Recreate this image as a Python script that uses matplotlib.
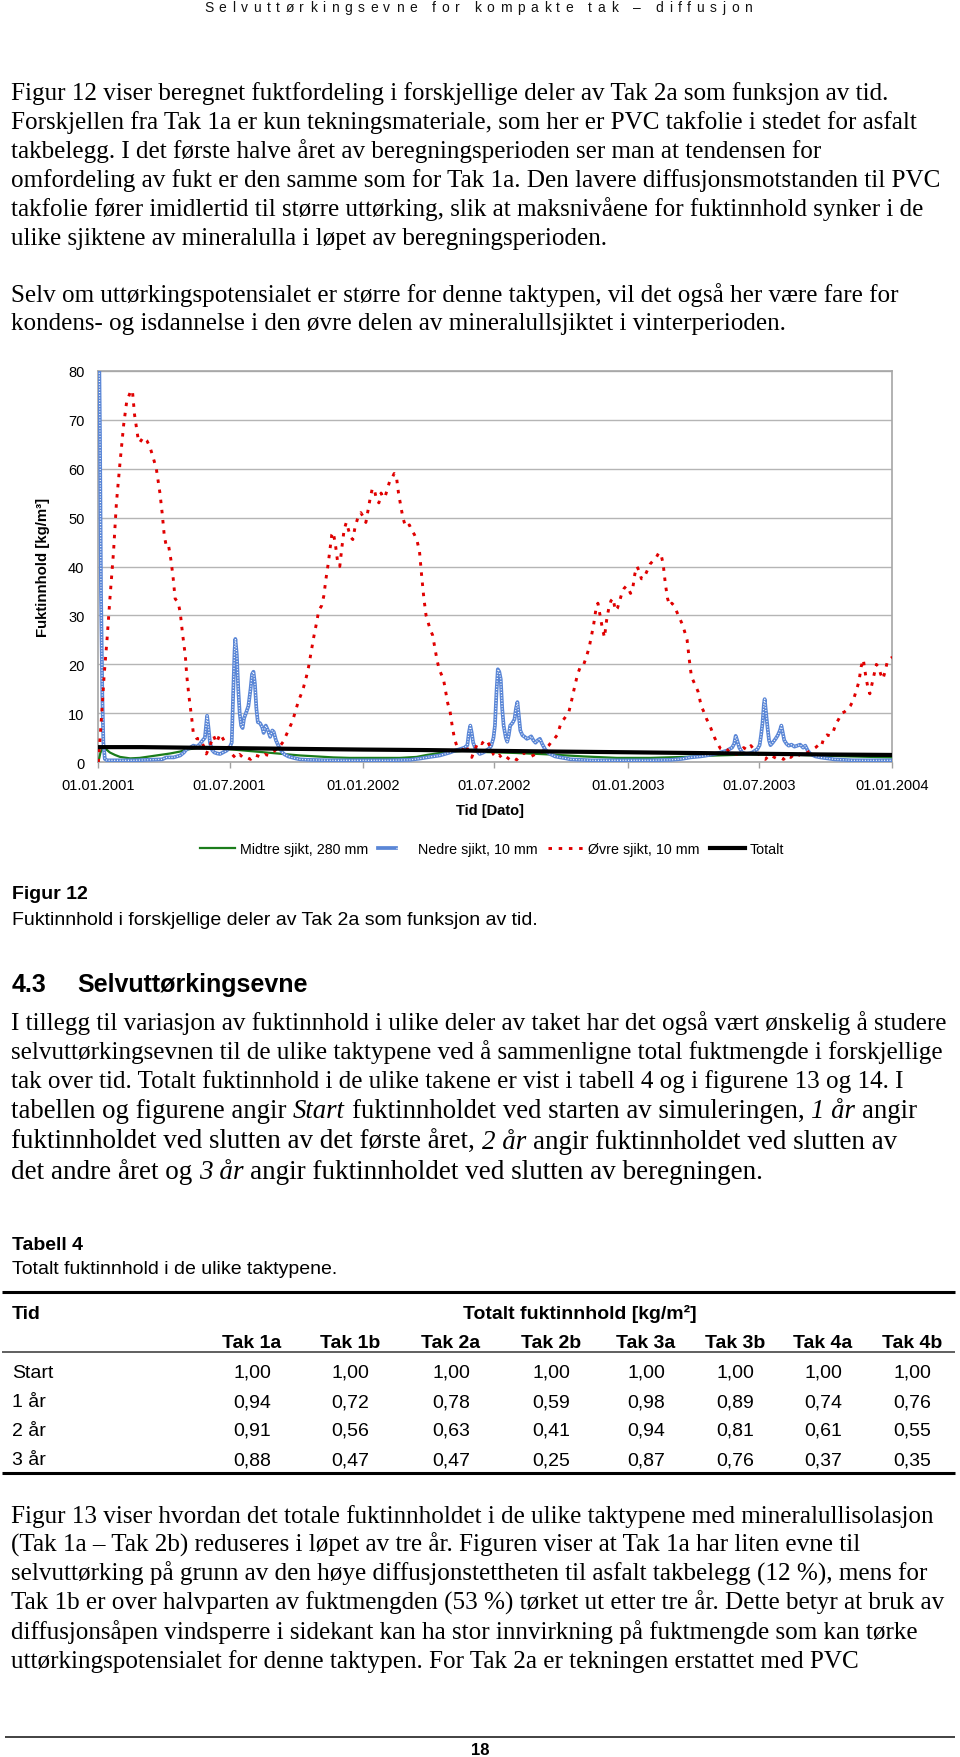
import numpy as np
import matplotlib
matplotlib.use("Agg")
import matplotlib.pyplot as plt
from matplotlib.lines import Line2D
from matplotlib.legend_handler import HandlerTuple

# ---------------- data ----------------
x_tick_dates = ["2001-01-01", "2001-07-01", "2002-01-01", "2002-07-01",
                "2003-01-01", "2003-07-01", "2004-01-01"]
x_tick_labels = ["01.01.2001", "01.07.2001", "01.01.2002", "01.07.2002",
                 "01.01.2003", "01.07.2003", "01.01.2004"]
y_ticks = [0, 10, 20, 30, 40, 50, 60, 70, 80]

# Øvre sjikt, 10 mm (days since 01.01.2001, kg/m3)
ovre_days = [0, 2, 5, 8, 12, 16, 21, 25, 30, 35, 39, 44, 47, 50, 55, 57, 62, 67, 71, 75,
             80, 85, 88, 91, 94, 97, 100, 103, 106, 110, 113, 116, 120, 122, 125, 129, 131, 136, 140, 145,
             149, 154, 159, 163, 168, 172, 177, 184, 190, 195, 200, 205, 210, 215, 220, 225, 230, 235, 240, 245,
             250, 255, 259, 262, 266, 269, 273, 276, 280, 283, 287, 290, 294, 297, 301, 304, 308, 311, 314, 317,
             320, 322, 324, 327, 330, 333, 336, 339, 342, 345, 348, 351, 354, 358, 362, 366, 369, 372, 375, 378,
             381, 384, 387, 390, 393, 396, 399, 402, 405, 408, 411, 414, 417, 420, 423, 426, 429, 432, 436, 440,
             443, 446, 449, 452, 455, 458, 461, 464, 467, 470, 473, 476, 479, 482, 485, 488, 491, 494, 498, 503,
             507, 511, 515, 519, 522, 526, 529, 533, 537, 541, 545, 549, 553, 557, 562, 567, 572, 577, 582, 587,
             592, 597, 602, 607, 612, 617, 621, 625, 629, 633, 637, 641, 645, 649, 653, 657, 661, 665, 669, 673,
             677, 680, 683, 686, 689, 692, 695, 698, 701, 704, 707, 710, 713, 716, 719, 722, 725, 728, 731, 734,
             737, 740, 743, 746, 749, 752, 755, 758, 761, 764, 767, 770, 773, 776, 779, 782, 785, 788, 791, 794,
             797, 800, 803, 806, 809, 812, 815, 818, 821, 824, 827, 830, 833, 836, 839, 842, 846, 850, 854, 858,
             862, 866, 870, 875, 880, 885, 890, 895, 900, 905, 910, 915, 920, 925, 930, 935, 940, 945, 950, 955,
             960, 965, 970, 975, 980, 985, 989, 993, 997, 1001, 1005, 1009, 1013, 1017, 1021, 1025, 1029, 1033, 1037, 1041,
             1045, 1049, 1052, 1055, 1058, 1061, 1064, 1067, 1070, 1073, 1076, 1079, 1082, 1085, 1088, 1091, 1095]
ovre_vals = [0.0, 4.0, 10.5, 17.7, 25.0, 33.4, 43.0, 53.0, 61.3, 69.0, 73.5, 75.6, 76.0, 71.0, 66.0, 65.3, 66.4, 65.7, 64.5, 62.6,
             60.0, 55.0, 51.0, 46.3, 44.0, 44.2, 41.5, 38.0, 33.4, 32.7, 30.6, 26.5, 21.8, 17.7, 13.5, 8.8, 6.0, 4.8, 4.8, 3.4,
             1.7, 3.4, 5.4, 4.0, 5.8, 4.8, 3.4, 1.7, 0.8, 1.6, 0.9, 1.0, 0.6, 1.5, 1.3, 1.0, 1.6, 1.4, 1.9, 2.6,
             3.2, 4.2, 5.5, 6.5, 7.8, 9.0, 11.0, 12.5, 14.0, 15.3, 17.5, 19.5, 23.0, 25.5, 28.5, 31.0, 32.0, 34.0, 37.5, 40.5,
             44.0, 46.5, 47.0, 44.5, 41.0, 40.0, 44.0, 47.5, 49.0, 47.5, 46.0, 45.5, 48.0, 50.0, 51.0, 50.0, 49.0, 51.5, 54.0, 56.0,
             55.5, 53.5, 53.0, 55.0, 54.0, 54.5, 56.0, 57.5, 58.0, 59.0, 58.5, 55.0, 52.5, 50.0, 48.5, 48.0, 48.5, 47.5, 46.5, 45.0,
             43.0, 38.0, 33.5, 30.0, 28.5, 27.0, 26.0, 23.5, 21.0, 19.0, 18.0, 17.0, 14.5, 12.0, 10.5, 7.5, 5.0, 3.5, 2.8, 2.5,
             3.5, 2.0, 1.0, 2.5, 3.5, 4.2, 3.8, 4.6, 4.2, 3.0, 1.6, 1.0, 1.5, 0.8, 1.2, 0.6, 1.0, 0.5, 1.4, 1.9,
             1.5, 1.2, 1.6, 1.6, 2.2, 2.8, 3.4, 4.2, 4.8, 5.6, 7.5, 8.6, 9.4, 10.3, 12.8, 15.5, 18.0, 19.6, 19.8, 21.5,
             23.5, 25.8, 28.0, 31.0, 32.5, 30.0, 27.5, 25.5, 29.0, 31.5, 33.0, 33.5, 31.0, 31.5, 33.0, 34.5, 35.5, 36.0, 35.5, 34.5,
             35.5, 38.5, 40.0, 39.0, 37.5, 37.5, 38.5, 39.5, 40.5, 41.0, 41.5, 42.0, 42.8, 42.5, 40.5, 36.5, 33.5, 32.0, 32.5, 32.0,
             31.0, 30.0, 29.0, 28.0, 26.5, 25.0, 21.0, 17.5, 16.5, 15.5, 14.5, 12.5, 11.0, 10.0, 8.8, 8.0, 6.5, 5.0, 3.8, 2.8,
             2.5, 2.8, 2.2, 1.8, 1.6, 2.2, 3.0, 2.5, 3.4, 2.5, 1.8, 1.0, 0.6, 1.5, 1.2, 0.8, 1.0, 0.6, 1.4, 1.0,
             1.7, 1.3, 2.0, 1.7, 2.2, 2.6, 3.0, 3.5, 3.2, 5.2, 5.6, 5.4, 6.0, 7.8, 8.8, 10.0, 10.3, 10.8, 11.5, 12.6,
             14.5, 16.5, 19.5, 21.0, 18.0, 15.5, 14.0, 16.0, 18.0, 20.0, 19.5, 18.0, 17.0, 18.5, 20.5, 21.0, 21.5]

# Nedre sjikt, 10 mm
nedre_days = [0, 1.4, 2.3, 3.7, 5.5, 7, 9, 12, 30, 50, 70, 88, 94, 104, 113, 118, 122, 127, 131, 136,
              140, 144, 147, 149, 150, 152, 154, 157, 160, 164, 168, 172, 177, 181, 184, 186, 188, 189, 191, 193,
              195, 197, 199, 201, 204, 207, 210, 212, 214, 216, 218, 220, 223, 226, 228, 231, 234, 237, 240, 242,
              245, 248, 251, 254, 257, 262, 267, 272, 278, 290, 320, 360, 400, 430, 445, 453, 462, 471, 480, 485,
              492, 499, 505, 509, 511, 513, 515, 517, 521, 526, 531, 535, 539, 542, 545, 547, 549, 551, 553, 555,
              557, 559, 562, 564, 566, 568, 571, 574, 576, 578, 580, 582, 585, 588, 591, 594, 597, 600, 603, 606,
              609, 612, 616, 620, 623, 630, 637, 645, 651, 680, 720, 760, 790, 805, 816, 830, 839, 850, 858, 867,
              874, 877, 879, 881, 884, 888, 893, 898, 902, 906, 909, 912, 914, 916, 918, 919, 921, 923, 925, 927,
              930, 934, 937, 940, 942, 944, 946, 949, 952, 956, 960, 964, 968, 972, 975, 978, 982, 989, 996, 1005,
              1015, 1040, 1070, 1095]
nedre_vals = [88.0, 80.0, 67.0, 35.0, 14.0, 4.0, 0.7, 0.4, 0.4, 0.4, 0.5, 0.6, 1.0, 1.0, 1.4, 2.0, 2.7, 3.0, 3.4, 3.2,
              3.7, 4.5, 5.0, 8.0, 9.5, 7.0, 4.0, 2.5, 2.0, 1.8, 1.7, 2.0, 2.4, 3.0, 4.0, 14.0, 23.0, 25.2, 22.0, 15.0,
              10.0, 7.5, 7.0, 9.0, 10.2, 11.5, 15.0, 18.0, 18.5, 16.0, 11.0, 8.2, 8.0, 7.2, 6.0, 7.5, 6.5, 5.2, 6.5, 6.2,
              4.5, 3.5, 2.7, 2.0, 1.6, 1.2, 1.0, 0.8, 0.6, 0.5, 0.4, 0.4, 0.4, 0.5, 0.8, 1.0, 1.2, 1.4, 1.8, 2.0,
              2.4, 2.7, 3.0, 3.5, 6.0, 7.5, 6.0, 4.0, 2.5, 1.7, 2.0, 2.4, 2.8, 3.4, 5.0, 7.5, 14.0, 19.0, 18.5, 17.0,
              11.0, 7.5, 5.0, 4.2, 5.5, 7.5, 8.0, 8.8, 11.0, 12.3, 9.5, 6.5, 5.5, 5.2, 4.8, 5.0, 5.3, 4.5, 4.0, 4.5,
              4.8, 3.8, 2.7, 2.0, 1.7, 1.2, 1.0, 0.8, 0.6, 0.4, 0.4, 0.4, 0.5, 0.7, 1.0, 1.2, 1.4, 1.7, 2.0, 2.4,
              3.0, 3.8, 5.4, 4.5, 3.0, 2.0, 1.7, 1.8, 2.0, 2.4, 2.7, 3.5, 5.5, 8.0, 12.0, 12.9, 10.0, 7.0, 4.5, 3.5,
              4.0, 4.8, 5.5, 6.5, 7.5, 6.0, 4.5, 3.8, 3.4, 3.6, 3.2, 3.4, 3.6, 3.0, 3.4, 2.5, 1.7, 1.2, 1.0, 0.8,
              0.6, 0.4, 0.4, 0.4]

# Midtre sjikt, 280 mm
midtre_days = [0, 3, 7, 12, 16, 23, 30, 44, 57, 71, 85, 99, 113, 122, 140, 163, 186, 209, 232, 255,
               278, 301, 324, 347, 370, 393, 416, 439, 453, 471, 490, 508, 531, 577, 623, 669, 715, 761, 807, 853,
               899, 945, 991, 1037, 1095]
midtre_vals = [0.0, 2.0, 3.0, 2.5, 2.0, 1.5, 1.1, 0.8, 0.9, 1.2, 1.5, 1.8, 2.2, 2.6, 3.0, 2.8, 2.6, 2.3, 2.0, 1.7,
               1.4, 1.2, 1.0, 0.9, 0.9, 0.9, 0.9, 1.1, 1.5, 1.9, 2.2, 2.4, 2.1, 1.9, 1.6, 1.2, 0.9, 0.9, 1.1, 1.4,
               1.6, 1.6, 1.4, 1.2, 1.0]

# Totalt
totalt_days = [0, 60, 120, 180, 240, 300, 365, 450, 540, 630, 730, 820, 910, 1000, 1095]
totalt_vals = [3.1, 3.1, 3.0, 2.9, 2.8, 2.7, 2.6, 2.5, 2.35, 2.2, 2.05, 1.9, 1.75, 1.6, 1.5]

series_labels = ["Midtre sjikt, 280 mm", "Nedre sjikt, 10 mm", "Øvre sjikt, 10 mm", "Totalt"]

# Tabell 4
table_cols = ["Tak 1a", "Tak 1b", "Tak 2a", "Tak 2b", "Tak 3a", "Tak 3b", "Tak 4a", "Tak 4b"]
table_rows = ["Start", "1 år", "2 år", "3 år"]
tab_start = [1.00, 1.00, 1.00, 1.00, 1.00, 1.00, 1.00, 1.00]
tab_1ar = [0.94, 0.72, 0.78, 0.59, 0.98, 0.89, 0.74, 0.76]
tab_2ar = [0.91, 0.56, 0.63, 0.41, 0.94, 0.81, 0.61, 0.55]
tab_3ar = [0.88, 0.47, 0.47, 0.25, 0.87, 0.76, 0.37, 0.35]

# ---------------- text ----------------
header = "Selvuttørkingsevne for kompakte tak – diffusjon"
para1 = ["Figur 12 viser beregnet fuktfordeling i forskjellige deler av Tak 2a som funksjon av tid.",
         "Forskjellen fra Tak 1a er kun tekningsmateriale, som her er PVC takfolie i stedet for asfalt",
         "takbelegg. I det første halve året av beregningsperioden ser man at tendensen for",
         "omfordeling av fukt er den samme som for Tak 1a. Den lavere diffusjonsmotstanden til PVC",
         "takfolie fører imidlertid til større uttørking, slik at maksnivåene for fuktinnhold synker i de",
         "ulike sjiktene av mineralulla i løpet av beregningsperioden."]
para2 = ["Selv om uttørkingspotensialet er større for denne taktypen, vil det også her være fare for",
         "kondens- og isdannelse i den øvre delen av mineralullsjiktet i vinterperioden."]
para3 = [[("I tillegg til variasjon av fuktinnhold i ulike deler av taket har det også vært ønskelig å studere", False)],
         [("selvuttørkingsevnen til de ulike taktypene ved å sammenligne total fuktmengde i forskjellige", False)],
         [("tak over tid. Totalt fuktinnhold i de ulike takene er vist i tabell 4 og i figurene 13 og 14. I", False)],
         [("tabellen og figurene angir ", False), ("Start", True), (" fuktinnholdet ved starten av simuleringen, ", False),
          ("1 år", True), (" angir", False)],
         [("fuktinnholdet ved slutten av det første året, ", False), ("2 år", True),
          (" angir fuktinnholdet ved slutten av", False)],
         [("det andre året og ", False), ("3 år", True), (" angir fuktinnholdet ved slutten av beregningen.", False)]]
para3_scale = [1.0, 1.0, 1.0, 1.065, 1.075, 1.08]
para4 = ["Figur 13 viser hvordan det totale fuktinnholdet i de ulike taktypene med mineralullisolasjon",
         "(Tak 1a – Tak 2b) reduseres i løpet av tre år. Figuren viser at Tak 1a har liten evne til",
         "selvuttørking på grunn av den høye diffusjonstettheten til asfalt takbelegg (12 %), mens for",
         "Tak 1b er over halvparten av fuktmengden (53 %) tørket ut etter tre år. Dette betyr at bruk av",
         "diffusjonsåpen vindsperre i sidekant kan ha stor innvirkning på fuktmengde som kan tørke",
         "uttørkingspotensialet for denne taktypen. For Tak 2a er tekningen erstattet med PVC"]

# ---------------- layout ----------------
W, H, DPI = 960, 1758, 100
SANS = ["Liberation Sans", "DejaVu Sans"]
SERIF = ["Liberation Serif", "DejaVu Serif"]
plt.rcParams["font.family"] = SANS

fig = plt.figure(figsize=(W / DPI, H / DPI), dpi=DPI)
fig.patch.set_facecolor("white")
renderer = fig.canvas.get_renderer()


def ftext(x, y, s, **kw):
    return fig.text(x / W, 1 - y / H, s, **kw)


def text_w(s, **kw):
    t = fig.text(0, 0, s, **kw)
    w = t.get_window_extent(renderer).width
    t.remove()
    return w


def hline(x0, x1, y, lw, color="black"):
    fig.add_artist(Line2D([x0 / W, x1 / W], [1 - y / H, 1 - y / H], lw=lw, color=color,
                          transform=fig.transFigure, solid_capstyle="butt"))


LEFT = 11

# body font size fitted to measured line ends
measured = [(para1[0], 888), (para1[1], 917), (para1[3], 940), (para1[4], 922),
            (para2[0], 895), (para4[0], 930), (para4[2], 927), (para4[3], 943), (para4[4], 920)]
ratios = [(r - LEFT) / text_w(s, family=SERIF, fontsize=10) * 10 for s, r in measured]
BODY_FS = float(np.median(ratios))


def draw_runs(x, y, runs, fs):
    space_w = 0.25 * fs * DPI / 72
    for s, ital in runs:
        lead = len(s) - len(s.lstrip(" "))
        trail = len(s) - len(s.rstrip(" "))
        core = s.strip(" ")
        x += lead * space_w
        t = ftext(x, y, core, family=SERIF, fontsize=fs, style="italic" if ital else "normal",
                  va="baseline", ha="left")
        x += t.get_window_extent(renderer).width
        x += trail * space_w


# header, letter spaced
HFS = 10
hx0, hx1, hy = 204, 752, 12
cw = []
for c in header:
    if c == " ":
        cw.append(0.278 * HFS * DPI / 72)
    else:
        cw.append(text_w(c, family=SANS, fontsize=HFS))
track = (hx1 - hx0 - sum(cw)) / (len(header) - 1)
xx = hx0
for c, w in zip(header, cw):
    if c != " ":
        ftext(xx, hy, c, family=SANS, fontsize=HFS, va="baseline", ha="left", color="#111111")
    xx += w + track

# paragraphs
for s, yb in zip(para1, [100, 129, 158, 187, 216, 245]):
    ftext(LEFT, yb, s, family=SERIF, fontsize=BODY_FS, va="baseline")
for s, yb in zip(para2, [302, 330]):
    ftext(LEFT, yb, s, family=SERIF, fontsize=BODY_FS, va="baseline")
for runs, sc, yb in zip(para3, para3_scale, [1030, 1059, 1088, 1118, 1149, 1179]):
    draw_runs(LEFT, yb, runs, BODY_FS * sc)
for s, yb in zip(para4, [1523, 1552, 1581, 1610, 1639, 1668]):
    ftext(LEFT, yb, s, family=SERIF, fontsize=BODY_FS, va="baseline")

# ---------------- chart ----------------
ax_l, ax_r, ax_t, ax_b = 98.3, 892.3, 371.7, 763.3
ax = fig.add_axes([ax_l / W, 1 - ax_b / H, (ax_r - ax_l) / W, (ax_b - ax_t) / H])

base = np.datetime64("2001-01-01")


def to_dates(days):
    return base + np.round(np.array(days, dtype=float) * 24).astype("timedelta64[h]")


l_mid, = ax.plot(to_dates(midtre_days), midtre_vals, color="#1b7d1b", lw=1.6, zorder=3)
l_ned, = ax.plot(to_dates(nedre_days), nedre_vals, color="#5a86d6", lw=2.7, zorder=4,
                 solid_joinstyle="round")
l_ned2, = ax.plot(to_dates(nedre_days), nedre_vals, color="white", lw=0.9, zorder=4.1,
                  linestyle=(0, (0.8, 1.4)))
l_ovr, = ax.plot(to_dates(ovre_days), ovre_vals, color="#e00000", lw=2.1, zorder=5,
                 linestyle=(0, (1.2, 2.3)))
l_tot, = ax.plot(to_dates(totalt_days), totalt_vals, color="black", lw=3.0, zorder=6)

ax.set_xlim(np.datetime64(x_tick_dates[0]), np.datetime64(x_tick_dates[-1]))
ax.set_ylim(0, 80)
ax.set_yticks(y_ticks)
ax.set_yticklabels([str(v) for v in y_ticks], fontsize=10.5)
ax.set_xticks(np.array(x_tick_dates, dtype="datetime64[D]"))
ax.set_xticklabels(x_tick_labels, fontsize=10.5)
ax.tick_params(axis="y", length=0, pad=10)
ax.tick_params(axis="x", length=4, width=1, color="#a0a0a0", pad=7)
ax.yaxis.grid(True, color="#b5b5b5", lw=1.0)
ax.set_axisbelow(True)
for sp in ax.spines.values():
    sp.set_color("#a6a6a6")
    sp.set_linewidth(1.2)

ftext(43, 567, "Fuktinnhold [kg/m³]", rotation=90, fontsize=10.8, fontweight="bold",
      ha="center", va="center")
ftext(490, 811, "Tid [Dato]", fontsize=10.5, fontweight="bold", ha="center", va="center")

fig.legend([l_mid, (l_ned, l_ned2), l_ovr, l_tot], series_labels,
           handler_map={tuple: HandlerTuple(ndivide=None)},
           loc="center", bbox_to_anchor=(492 / W, 1 - 850 / H), ncol=4, frameon=False,
           fontsize=10.3, handlelength=2.45, handletextpad=0.35, columnspacing=0.7,
           borderpad=0, borderaxespad=0)

# captions
ftext(LEFT + 1, 899, "Figur 12", fontsize=14, fontweight="bold", va="baseline")
ftext(LEFT + 1, 925, "Fuktinnhold i forskjellige deler av Tak 2a som funksjon av tid.",
      fontsize=14, va="baseline")
ftext(LEFT + 1, 992, "4.3", fontsize=18, fontweight="bold", va="baseline")
ftext(77, 992, "Selvuttørkingsevne", fontsize=18, fontweight="bold", va="baseline")

# ---------------- table ----------------
ftext(LEFT + 1, 1250, "Tabell 4", fontsize=14, fontweight="bold", va="baseline")
ftext(LEFT + 1, 1274, "Totalt fuktinnhold i de ulike taktypene.", fontsize=14, va="baseline")

hline(2, 955, 1292.5, 2.2)
hline(2, 955, 1353, 1.2, color="#444444")
hline(2, 955, 1474, 2.2)

col_x = [252, 350, 451, 551, 646, 735, 823, 912]
ftext(12, 1319, "Tid", fontsize=14, fontweight="bold", va="baseline")
ftext(580, 1319, "Totalt fuktinnhold [kg/m²]", fontsize=14, fontweight="bold",
      va="baseline", ha="center")
for c, cx in zip(table_cols, col_x):
    ftext(cx, 1348, c, fontsize=14, fontweight="bold", va="baseline", ha="center")
row_y = [1378, 1407, 1436, 1465]
for name, vals, ry in zip(table_rows, [tab_start, tab_1ar, tab_2ar, tab_3ar], row_y):
    ftext(12, ry, name, fontsize=14, va="baseline")
    for v, cx in zip(vals, col_x):
        ftext(cx, ry, f"{v:.2f}".replace(".", ","), fontsize=14, va="baseline", ha="center")

# footer
hline(5, 955, 1738, 1.3, color="#333333")
ftext(480, 1755, "18", fontsize=12, fontweight="bold", ha="center", va="baseline")

fig.savefig("out.png", dpi=DPI, facecolor="white")
